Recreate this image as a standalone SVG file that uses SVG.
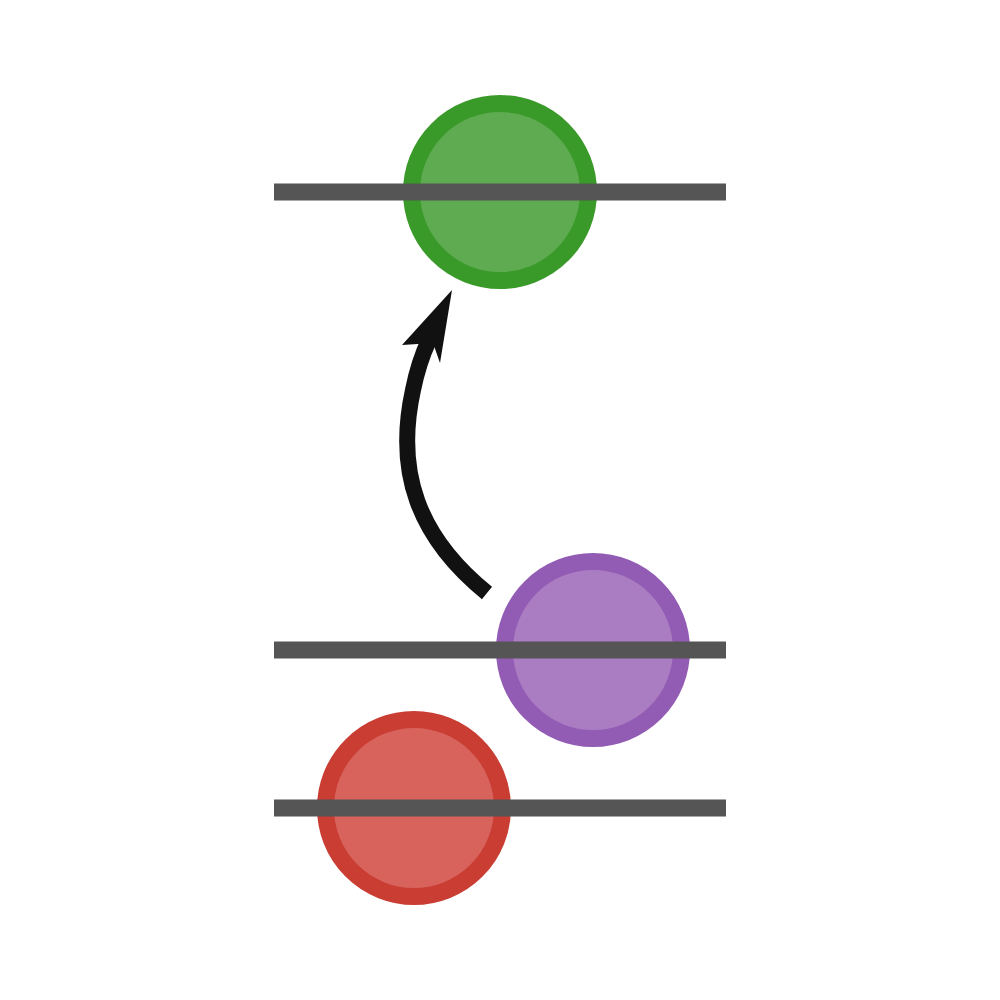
<svg xmlns="http://www.w3.org/2000/svg" width="1000" height="1000" viewBox="0 0 1000 1000">
<style>
.ball{stroke-width:17}
.lvl{stroke:#555555;stroke-width:17;fill:none}
.arr{stroke:#111111;stroke-width:16;fill:none}
</style>
<rect width="1000" height="1000" fill="#ffffff"/>
<g id="node-green"><circle class="ball" cx="500" cy="192" r="88.5" fill="#5fab52" stroke="#3a9a29"/></g>
<g id="node-purple"><circle class="ball" cx="593" cy="650" r="88.5" fill="#aa7dc2" stroke="#935cb4"/></g>
<g id="node-red"><circle class="ball" cx="414" cy="808" r="88.5" fill="#d8635c" stroke="#c93d33"/></g>
<g id="levels">
<line class="lvl" x1="274" y1="192" x2="726" y2="192"/>
<line class="lvl" x1="274" y1="650" x2="726" y2="650"/>
<line class="lvl" x1="274" y1="808" x2="726" y2="808"/>
</g>
<g id="connectors">
<path class="arr" d="M487 593 C418 537 395 472 413 390 C417 370 422 355 429 340"/>
<polygon points="452,290 440,363 433,343 402,345" fill="#111111"/>
</g>
</svg>
